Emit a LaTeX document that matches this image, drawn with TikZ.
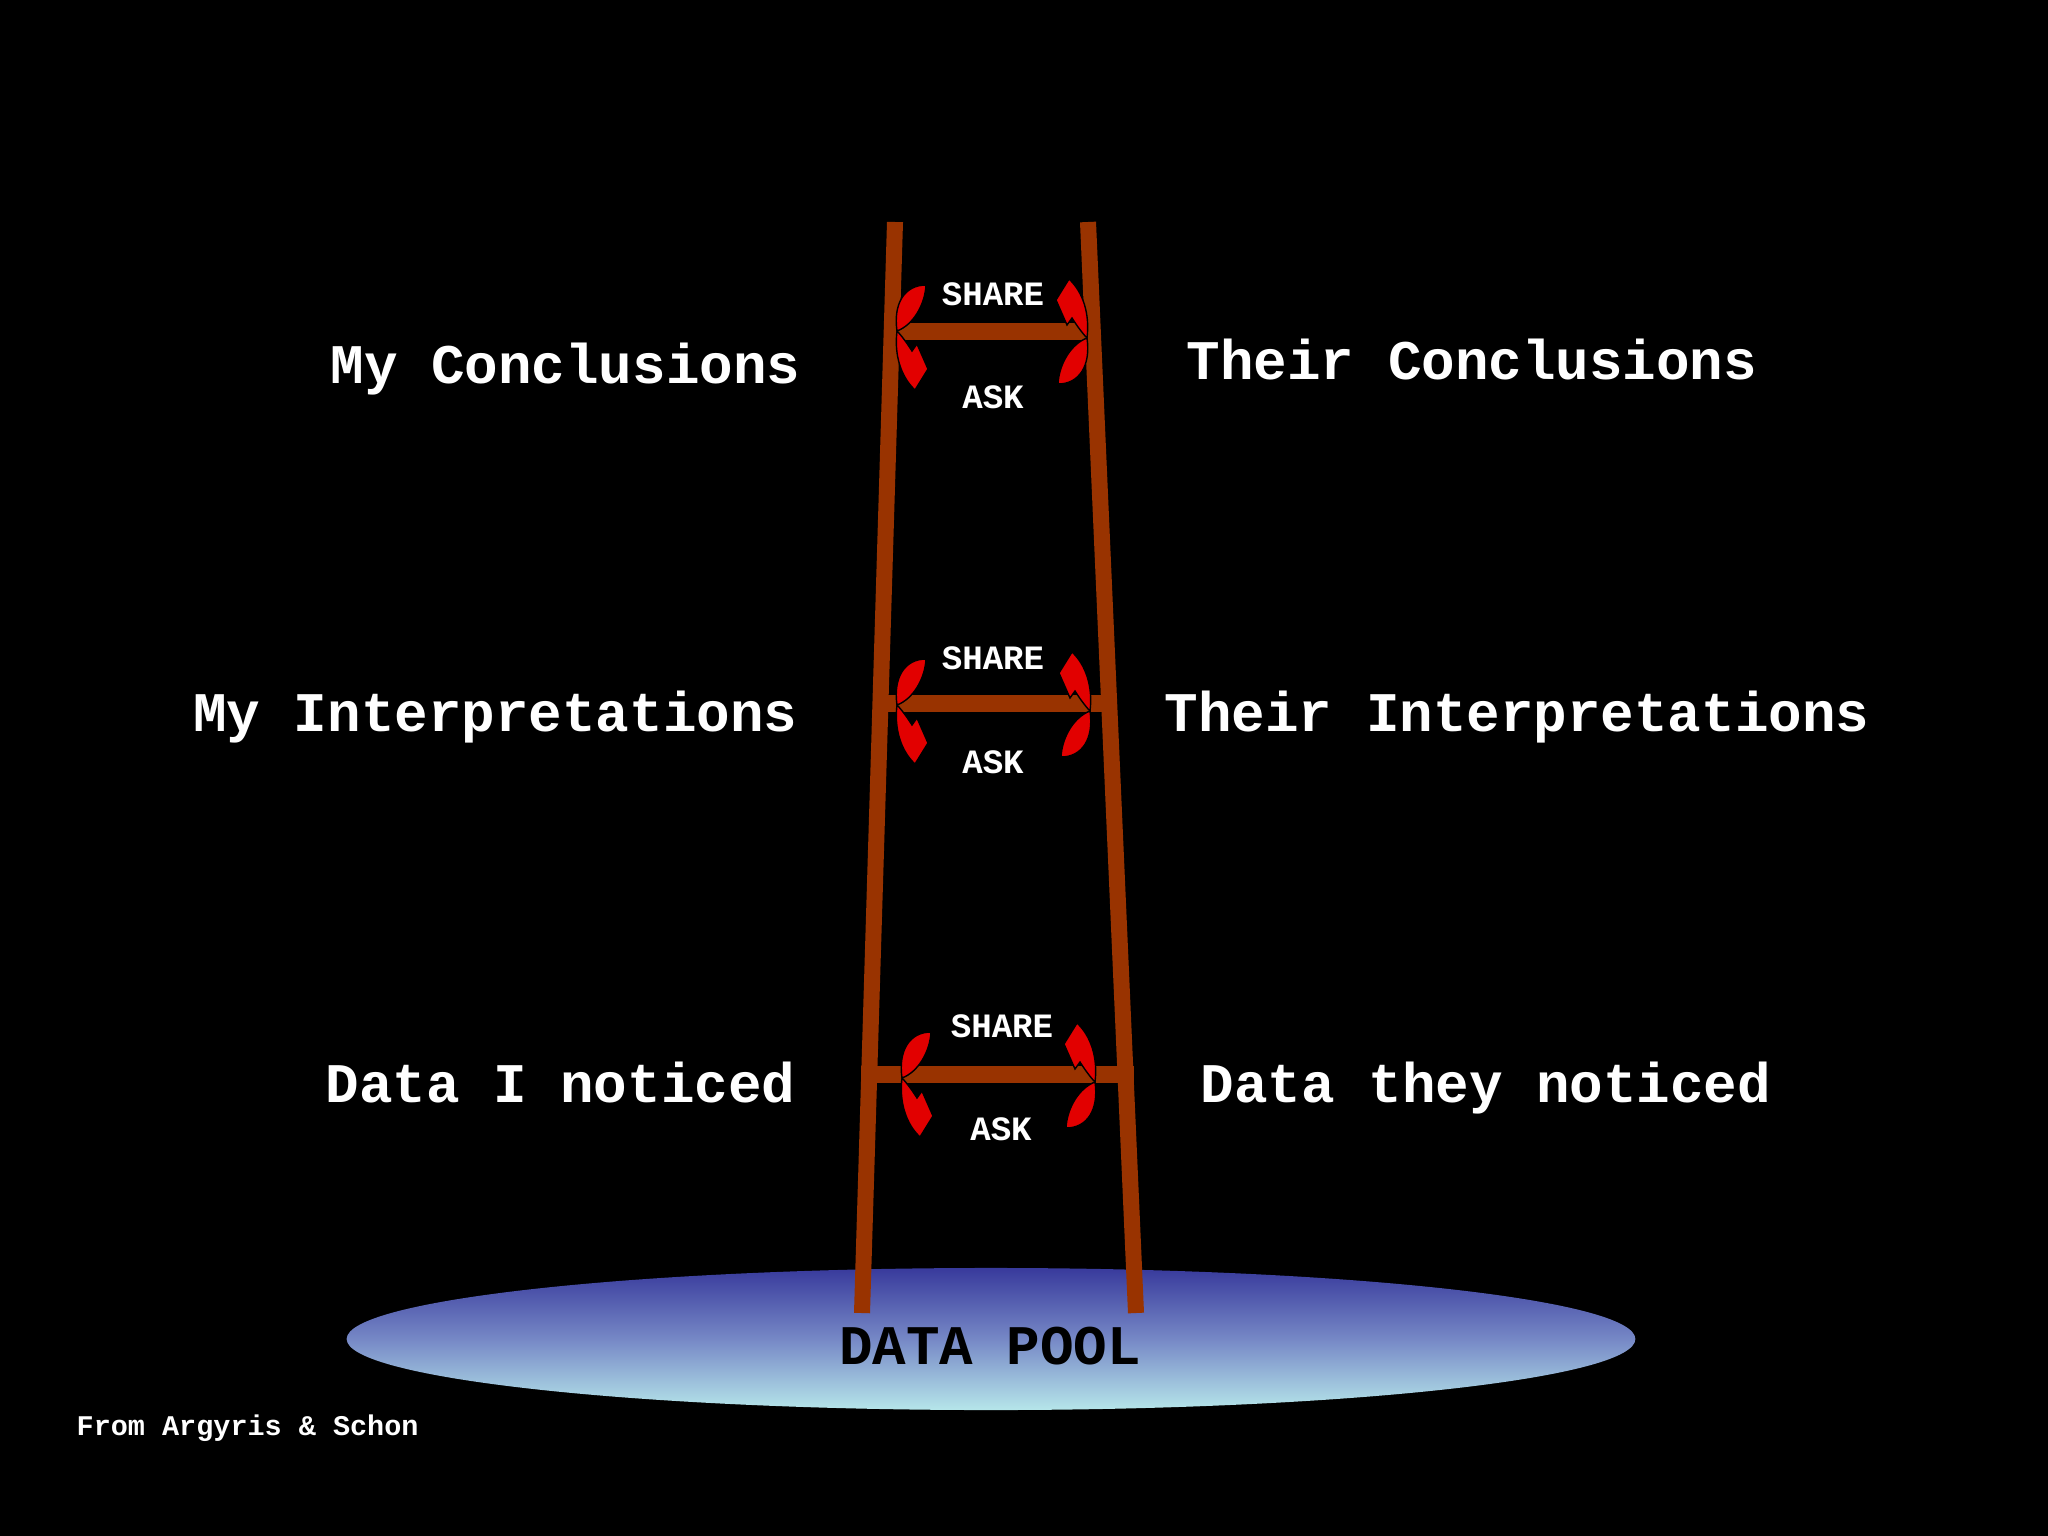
\documentclass[tikz,border=0pt]{standalone}
\usepackage{fontspec}
\setmainfont{Liberation Mono}
\usetikzlibrary{shapes.geometric}

\definecolor{railbrown}{RGB}{153,51,0}
\definecolor{arrowred}{RGB}{226,0,0}
\definecolor{pooltop}{RGB}{56,58,156}
\definecolor{poolmid}{RGB}{118,136,198}
\definecolor{poolbot}{RGB}{182,230,234}

\tikzset{
  biglabel/.style={text=white, inner sep=0pt, font=\fontsize{15.9}{18}\selectfont\bfseries},
  smalllabel/.style={text=white, inner sep=0pt, font=\fontsize{9.7}{11}\selectfont\bfseries},
  rail/.style={draw=railbrown, line width=0.16cm},
  rung/.style={draw=railbrown, line width=0.17cm},
  redpart/.style={fill=arrowred, draw=black, line width=0.4pt},
  swaparrows/.pic={
    % leaf
    \filldraw[redpart] (0,0) .. controls (-4,-28) and (8,-46) .. (29,-46)
      .. controls (28,-26) and (16,-6) .. cycle;
    % curled arrow
    \filldraw[redpart] (0,0) .. controls (-3,24) and (4,46) .. (18,59)
      -- (31,38) -- (20,13) -- (15,20) .. controls (10,12) and (4,4) .. cycle;
  }
}

\begin{document}
\begin{tikzpicture}[x=0.01cm, y=-0.01cm]
    \fill[black] (0,0) rectangle (2048,1536);
    \useasboundingbox (0,0) rectangle (2048,1536);

    % Data pool
    \node[ellipse, minimum width=12.88cm, minimum height=1.42cm, inner sep=0pt,
          top color=pooltop, bottom color=poolbot, middle color=poolmid] (pool) at (991,1339) {};

    % Ladder rails
    \coordinate (lefttop) at (895,222);
    \coordinate (leftfoot) at (862,1313);
    \coordinate (righttop) at (1088,222);
    \coordinate (rightfoot) at (1136,1313);
    \draw[rail] (lefttop) -- (leftfoot);
    \draw[rail] (righttop) -- (rightfoot);

    % Rungs
    \coordinate (rungA1) at (892,331);
    \coordinate (rungA2) at (1093,331);
    \coordinate (rungB1) at (880,703);
    \coordinate (rungB2) at (1117,703);
    \coordinate (rungC1) at (861,1074);
    \coordinate (rungC2) at (1134,1074);
    \draw[rung] (rungA1) -- (rungA2);
    \draw[rung] (rungB1) -- (rungB2);
    \draw[rung] (rungC1) -- (rungC2);

    % Share / ask arrows
    \pic at (897,331) {swaparrows};
    \pic[rotate=180] at (1087,338) {swaparrows};
    \pic at (897,705) {swaparrows};
    \pic[rotate=180] at (1090,711) {swaparrows};
    \pic at (902,1078) {swaparrows};
    \pic[rotate=180] at (1095,1082) {swaparrows};

    \node[smalllabel] (shareA) at (993,294) {SHARE};
    \node[smalllabel] (askA) at (993,397) {ASK};
    \node[smalllabel] (shareB) at (993,658) {SHARE};
    \node[smalllabel] (askB) at (993,762) {ASK};
    \node[smalllabel] (shareC) at (1002,1026) {SHARE};
    \node[smalllabel] (askC) at (1001,1129) {ASK};

    % Labels
    \node[biglabel, anchor=base east] (myconcl) at (801,383) {My Conclusions};
    \node[biglabel, anchor=base west] (theirconcl) at (1186,379) {Their Conclusions};
    \node[biglabel, anchor=base east] (myinterp) at (798,731) {My Interpretations};
    \node[biglabel, anchor=base west] (theirinterp) at (1164,731) {Their Interpretations};
    \node[biglabel, anchor=base east] (mydata) at (796,1102) {Data I noticed};
    \node[biglabel, anchor=base west] (theirdata) at (1200,1102) {Data they noticed};

    \node[biglabel, text=black] (poollabel) at (990,1346) {DATA POOL};
    \node[text=white, inner sep=0pt, anchor=base west, font=\fontsize{8.1}{10}\selectfont\bfseries] (source) at (76,1435) {From Argyris \& Schon};
\end{tikzpicture}
\end{document}
